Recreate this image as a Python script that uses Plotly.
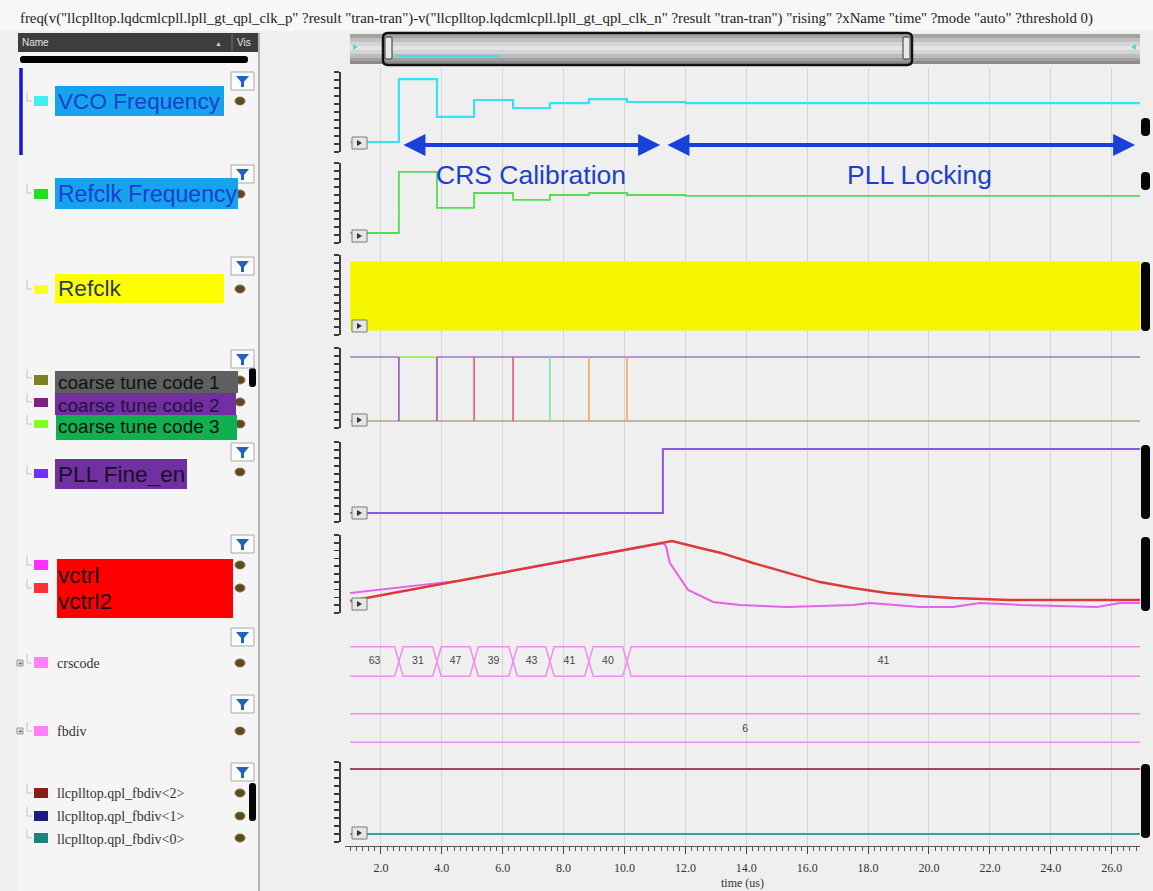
import plotly.graph_objects as go

W, H = 1153, 891
def X(px): return px / W
def Y(py): return 1 - py / H

# ---------------- data ----------------
t_start = 0.99
t_end = 26.93
tick_vals = [2, 4, 6, 8, 10, 12, 14, 16, 18, 20, 22, 24, 26]
crs_times = [2.59, 3.84, 5.06, 6.34, 7.55, 8.83, 10.08]
crs_codes = [63, 31, 47, 39, 43, 41, 40, 41]

vco_levels = [1.25, 9.12, 4.38, 6.50, 5.50, 6.12, 6.62, 6.25]
vco_settle_t = 12.0
vco_settled = 6.12

refclk_freq_levels = [1.25, 8.88, 4.38, 6.25, 5.38, 6.00, 6.25, 6.00]
refclk_freq_settle_t = 12.0
refclk_freq_settled = 5.88

refclk_high = 9.12
refclk_low = 0.62

ct_high = 8.88
ct_low = 0.88
ct3_window = [2.59, 3.84]
glitch_colors = ["#9a52b8", "#9a52b8", "#e8507c", "#e8507c", "#7ae8a2", "#f0a86a", "#f0a86a"]

fine_en_time = 11.26
fine_low = 1.12
fine_high = 9.12

vctrl2_t = [0.99, 11.26, 11.56, 12.48, 13.14, 14.22, 15.34, 16.42, 17.50, 18.62, 19.70, 20.79, 22.66, 26.93]
vctrl2_v = [0.154, 0.897, 0.923, 0.833, 0.773, 0.641, 0.513, 0.397, 0.321, 0.256, 0.218, 0.192, 0.167, 0.167]
vctrl_t = [0.99, 4.60, 11.26, 11.36, 11.49, 12.09, 12.91, 13.79, 15.34, 17.50, 18.06, 19.70, 20.79, 21.67, 22.99, 25.52, 26.27, 26.93]
vctrl_v = [0.256, 0.415, 0.893, 0.860, 0.641, 0.295, 0.141, 0.103, 0.077, 0.103, 0.128, 0.077, 0.077, 0.128, 0.103, 0.077, 0.128, 0.128]

fbdiv_value = 6
fbdiv_bits = [1, 1, 0]          # <2>, <1>, <0>
bit_high = 9.12
bit_low = 1.0

# ---------------- figure ----------------
fig = go.Figure()
SANS = "Liberation Sans, Arial, sans-serif"
SERIF = "Liberation Serif, Times New Roman, serif"

# invisible carrier trace for the full-height grid subplot
fig.add_trace(go.Scatter(x=[t_start], y=[0.5], mode="markers", marker=dict(opacity=0),
                         xaxis="x", yaxis="y", hoverinfo="skip", showlegend=False))

# VCO Frequency
fig.add_trace(go.Scatter(x=[t_start] + crs_times + [vco_settle_t, t_end],
                         y=vco_levels + [vco_settled, vco_settled],
                         mode="lines", line=dict(color="#34e2f2", width=2.2, shape="hv"),
                         xaxis="x", yaxis="y2", showlegend=False))
# Refclk Frequency
fig.add_trace(go.Scatter(x=[t_start] + crs_times + [refclk_freq_settle_t, t_end],
                         y=refclk_freq_levels + [refclk_freq_settled, refclk_freq_settled],
                         mode="lines", line=dict(color="#52de52", width=1.8, shape="hv"),
                         xaxis="x", yaxis="y3", showlegend=False))
# Refclk (dense clock -> envelope)
fig.add_trace(go.Scatter(x=[t_start, t_end], y=[refclk_low, refclk_low], mode="lines",
                         line=dict(color="#f4f400", width=1), xaxis="x", yaxis="y4", showlegend=False))
fig.add_trace(go.Scatter(x=[t_start, t_end], y=[refclk_high, refclk_high], mode="lines",
                         line=dict(color="#f4f400", width=1), fill="tonexty", fillcolor="#f6f600",
                         xaxis="x", yaxis="y4", showlegend=False))
# coarse tune codes
fig.add_trace(go.Scatter(x=[t_start, t_end], y=[ct_low, ct_low], mode="lines",
                         line=dict(color="#aaa872", width=1.6), xaxis="x", yaxis="y5", showlegend=False))
fig.add_trace(go.Scatter(x=[t_start, t_end], y=[ct_high, ct_high], mode="lines",
                         line=dict(color="#a474c8", width=1.6), xaxis="x", yaxis="y5", showlegend=False))
fig.add_trace(go.Scatter(x=ct3_window, y=[ct_high, ct_high], mode="lines",
                         line=dict(color="#b6f070", width=1.8), xaxis="x", yaxis="y5", showlegend=False))
for tt, cc in zip(crs_times, glitch_colors):
    fig.add_trace(go.Scatter(x=[tt, tt], y=[ct_low, ct_high], mode="lines",
                             line=dict(color=cc, width=1.6), xaxis="x", yaxis="y5", showlegend=False))
# PLL Fine_en
fig.add_trace(go.Scatter(x=[t_start, fine_en_time, t_end], y=[fine_low, fine_high, fine_high],
                         mode="lines", line=dict(color="#8c54ea", width=2, shape="hv"),
                         xaxis="x", yaxis="y6", showlegend=False))
# vctrl / vctrl2
fig.add_trace(go.Scatter(x=vctrl_t, y=vctrl_v, mode="lines", line=dict(color="#e262e8", width=2),
                         xaxis="x", yaxis="y7", showlegend=False))
fig.add_trace(go.Scatter(x=vctrl2_t, y=vctrl2_v, mode="lines", line=dict(color="#e03838", width=2.4),
                         xaxis="x", yaxis="y7", showlegend=False))

# crscode bus
d = 0.14
edges = [t_start] + crs_times + [t_end]
bx, by = [], []
for i in range(len(crs_codes)):
    s, e = edges[i], edges[i + 1]
    first, last = i == 0, i == len(crs_codes) - 1
    sl = s if first else s + d
    er = e if last else e - d
    for lvl in (1, 0):
        if not first:
            bx += [s]; by += [0.5]
        bx += [sl, er]; by += [lvl, lvl]
        if not last:
            bx += [e]; by += [0.5]
        bx += [None]; by += [None]
fig.add_trace(go.Scatter(x=bx, y=by, mode="lines", line=dict(color="#f08cf0", width=1.5),
                         xaxis="x", yaxis="y8", showlegend=False))
fig.add_trace(go.Scatter(x=[(edges[i] + edges[i + 1]) / 2 for i in range(len(crs_codes))],
                         y=[0.5] * len(crs_codes), mode="text",
                         text=[str(c) for c in crs_codes],
                         textfont=dict(family=SANS, size=10.5, color="#454545"),
                         xaxis="x", yaxis="y8", showlegend=False))
# fbdiv bus
fig.add_trace(go.Scatter(x=[t_start, t_end, None, t_start, t_end], y=[1, 1, None, 0, 0], mode="lines",
                         line=dict(color="#f08cf0", width=1.5), xaxis="x", yaxis="y9", showlegend=False))
fig.add_trace(go.Scatter(x=[(t_start + t_end) / 2], y=[0.45], mode="text", text=[str(fbdiv_value)],
                         textfont=dict(family=SANS, size=10.5, color="#454545"),
                         xaxis="x", yaxis="y9", showlegend=False))
# fbdiv bits
bit_colors = ["#b84444", "#22228a", "#3aa0a0"]
for b, c in zip([fbdiv_bits[1], fbdiv_bits[0], fbdiv_bits[2]], [bit_colors[1], bit_colors[0], bit_colors[2]]):
    lvl = bit_high if b else bit_low
    fig.add_trace(go.Scatter(x=[t_start, t_end], y=[lvl, lvl], mode="lines",
                             line=dict(color=c, width=1.8), xaxis="x", yaxis="y10", showlegend=False))

# ---------------- axes ----------------
layout_axes = {}
layout_axes["xaxis"] = dict(domain=[X(345), X(1140)], range=[0.82, 26.93], anchor="y",
                            showgrid=True, gridcolor="#d6d6d6", gridwidth=1, zeroline=False,
                            tickvals=tick_vals, tickformat=".1f", ticks="outside", ticklen=7,
                            tickcolor="#444", showline=True, linecolor="#555", linewidth=1,
                            minor=dict(dtick=0.2, tick0=0, ticks="outside", ticklen=4, tickcolor="#555", showgrid=False),
                            tickfont=dict(family=SERIF, size=12, color="#333"),
                            ticklabelstandoff=4,
                            title=dict(text="time (us)", font=dict(family=SERIF, size=12, color="#333"), standoff=4))
layout_axes["yaxis"] = dict(domain=[Y(846), Y(68)], range=[0, 1], visible=False, fixedrange=True)

panels = {
    "yaxis2": (72, 152, [0, 10], 1, True),
    "yaxis3": (163, 243, [0, 10], 1, True),
    "yaxis4": (255, 335, [0, 10], 1, True),
    "yaxis5": (348, 428, [0, 10], 1, True),
    "yaxis6": (442, 522, [0, 10], 1, True),
    "yaxis7": (535, 613, [0, 1], 0.1, True),
    "yaxis8": (641, 682, [-0.2, 1.2], 1, False),
    "yaxis9": (708, 748, [-0.2, 1.2], 1, False),
    "yaxis10": (762, 842, [0, 10], 1, True),
}
for name, (top, bot, rng, dt, vis) in panels.items():
    layout_axes[name] = dict(domain=[Y(bot), Y(top)], range=rng, anchor="free", position=X(340),
                             showgrid=False, zeroline=False, showticklabels=False,
                             showline=vis, linecolor="#3a3a3a", linewidth=2,
                             ticks="outside" if vis else "", ticklen=5, tickwidth=1.5,
                             tickcolor="#3a3a3a", dtick=dt, tick0=rng[0], visible=vis, fixedrange=True)

# ---------------- shapes ----------------
shapes = []
def rect(x0, y0, x1, y1, fill, line=None, lw=0, layer="above"):
    shapes.append(dict(type="rect", xref="paper", yref="paper", x0=X(x0), x1=X(x1), y0=Y(y1), y1=Y(y0),
                       fillcolor=fill, line=dict(color=line or fill, width=lw), layer=layer))
def pline(x0, y0, x1, y1, color, w=1, layer="above"):
    shapes.append(dict(type="line", xref="paper", yref="paper", x0=X(x0), x1=X(x1), y0=Y(y0), y1=Y(y1),
                       line=dict(color=color, width=w), layer=layer))
def path(pts, fill, line=None, lw=0):
    s = "M " + " L ".join(f"{X(a):.5f},{Y(b):.5f}" for a, b in pts) + " Z"
    shapes.append(dict(type="path", xref="paper", yref="paper", path=s, fillcolor=fill,
                       line=dict(color=line or fill, width=lw), layer="above"))
def rrect(x0, y0, x1, y1, r, fill, line=None, lw=0, layer="above"):
    def p(a, b): return f"{X(a):.5f},{Y(b):.5f}"
    s = (f"M {p(x0+r,y0)} L {p(x1-r,y0)} Q {p(x1,y0)} {p(x1,y0+r)} L {p(x1,y1-r)} Q {p(x1,y1)} {p(x1-r,y1)} "
         f"L {p(x0+r,y1)} Q {p(x0,y1)} {p(x0,y1-r)} L {p(x0,y0+r)} Q {p(x0,y0)} {p(x0+r,y0)} Z")
    shapes.append(dict(type="path", xref="paper", yref="paper", path=s, fillcolor=fill,
                       line=dict(color=line or fill, width=lw), layer=layer))
def circ(x0, y0, x1, y1, fill, line=None, lw=0):
    shapes.append(dict(type="circle", xref="paper", yref="paper", x0=X(x0), x1=X(x1), y0=Y(y1), y1=Y(y0),
                       fillcolor=fill, line=dict(color=line or fill, width=lw), layer="above"))

# title band
rect(0, 0, 1153, 31, "#f7f7f7", layer="below")
# left panel
rect(18, 52, 258, 891, "#f5f5f5", layer="below")
pline(259, 33, 259, 891, "#b4b4b4", 2, layer="below")
rect(18, 33, 258, 52, "#3d3d3d")
pline(232, 34, 232, 51, "#777777", 1)
rrect(20, 56, 248, 63, 3, "#000000")
pline(21, 68, 21, 155, "#1414d6", 3.5)

# top scrollbar (stepped gradient)
for (a, b, c) in [(34, 38, "#a4a4a4"), (38, 42, "#c0c0c0"), (42, 46, "#d6d6d6"), (46, 50, "#e4e4e4"),
                  (50, 54, "#d4d4d4"), (54, 58, "#bcbcbc"), (58, 61, "#a0a0a0"), (61, 64, "#8c8c8c")]:
    rect(350, a, 1140, b, c)
rrect(383, 33, 912, 65, 5, "rgba(0,0,0,0)", "#111111", 2.5)
rrect(385, 37, 392, 59, 1, "#e9e9e9", "#333333", 1)
rrect(903, 37, 910, 59, 1, "#e9e9e9", "#333333", 1)
pline(396, 56, 500, 56, "#46dcea", 2)
path([(353, 44), (358, 47), (353, 50)], "#46dcea")
path([(1136, 44), (1131, 47), (1136, 50)], "#46dcea")

# small "play" boxes
for bot in [150, 243, 333, 427, 520, 611, 840]:
    rect(352, bot - 13, 367, bot - 1, "#e6e6e6", "#7a7a7a", 1)
    path([(357, bot - 10), (362, bot - 7), (357, bot - 4)], "#333333")

# right black pills
for (a, b) in [(118, 136), (172, 190), (262, 331), (445, 519), (537, 611), (764, 838)]:
    rrect(1141, a, 1150, b, 4, "#050505")
# left list pills
for (a, b) in [(368, 387), (783, 821)]:
    rrect(249, a, 256, b, 3, "#050505")

# filter icons
for ty in [72, 165, 257, 350, 443, 535, 628, 695, 763]:
    rect(231, ty, 254, ty + 18, "#fbfbfb", "#a8a8a8", 1)
    path([(236, ty + 4), (249, ty + 4), (244, ty + 10), (244, ty + 15), (241, ty + 15), (241, ty + 10)], "#1f62c0")
# eyes
for ey in [101, 194, 289, 380, 402, 424, 472, 565, 588, 663, 731, 793, 816, 838]:
    circ(235, ey - 4, 245, ey + 4, "#5c4a20", "#8c7646", 1)
# tree connectors
for cy in [101, 193, 289, 378, 402, 424, 474, 565, 588, 663, 731, 793, 816, 838]:
    pline(27, cy - 9, 27, cy, "#c4c4c4", 1)
    pline(27, cy, 32, cy, "#c4c4c4", 1)
# expand boxes
for cy in [663, 731]:
    rect(17, cy - 3, 23, cy + 3, "#e0e0e0", "#9a9a9a", 1)

# label backgrounds
rect(55, 86, 224, 116, "#17a2ee")
rect(55, 178, 238, 209, "#17a2ee")
rect(55, 274, 224, 303, "#ffff00")
rect(55, 371, 238, 393, "#5f5f5f")
rect(55, 393, 236, 415, "#7030a0")
rect(56, 415, 237, 440, "#10b050")
rect(55, 459, 187, 489, "#7030a0")
rect(57, 559, 233, 618, "#ff0000")
# colour squares
for (a, b, c) in [(96, 106, "#40f0f0"), (189, 199, "#20e020"), (285, 294, "#ffff20"),
                  (375, 385, "#808020"), (398, 407, "#802080"), (420, 428, "#80ff20"),
                  (469, 478, "#7030ff"), (560, 570, "#ff30ff"), (583, 593, "#ff3030"),
                  (657, 668, "#ff80ff"), (726, 736, "#ff80ff"),
                  (788, 798, "#8b1c1c"), (811, 821, "#1c1c80"), (833, 843, "#208080")]:
    rect(34, a, 48, b, c)

# ---------------- annotations ----------------
ann = []
def txt(x, y, s, size, color, family=SANS, xanchor="left"):
    ann.append(dict(xref="paper", yref="paper", x=X(x), y=Y(y), text=s, showarrow=False,
                    xanchor=xanchor, yanchor="middle", font=dict(family=family, size=size, color=color)))

title = ('freq(v("llcplltop.lqdcmlcpll.lpll_gt_qpl_clk_p" ?result "tran-tran")-v("llcplltop.lqdcmlcpll.lpll_gt_qpl_clk_n" '
         '?result "tran-tran") "rising" ?xName "time" ?mode "auto" ?threshold 0)')
txt(18, 18, title, 14.8, "#222222", SERIF)
txt(20, 42, "Name", 10, "#e4e4e4")
txt(213, 43, "▲", 7, "#d0d0d0")
txt(235, 42, "Vis", 10, "#e4e4e4")

txt(56, 101, "VCO Frequency", 22.6, "#1c40cc")
txt(56, 194, "Refclk Frequency", 23, "#1c40cc")
txt(56, 289, "Refclk", 22.6, "#2b3d58")
txt(56, 383, "coarse tune code 1", 19, "#111111")
txt(56, 405, "coarse tune code 2", 19, "#2a0f40")
txt(56, 427, "coarse tune code 3", 19, "#111111")
txt(56, 474, "PLL Fine_en", 22.6, "#1a1024")
txt(56, 575, "vctrl", 22.6, "#111111")
txt(56, 601, "vctrl2", 22.6, "#111111")
txt(55, 663, "crscode", 14, "#333333", SERIF)
txt(55, 731, "fbdiv", 14, "#333333", SERIF)
txt(55, 793, "llcplltop.qpl_fbdiv&lt;2&gt;", 14, "#333333", SERIF)
txt(55, 816, "llcplltop.qpl_fbdiv&lt;1&gt;", 14, "#333333", SERIF)
txt(55, 839, "llcplltop.qpl_fbdiv&lt;0&gt;", 14, "#333333", SERIF)
for cy in [663, 731]:
    txt(20, cy, "+", 8, "#444444", xanchor="center")

# phase arrows
arrow_y = (152 - 145) / 8 * 1.0
for (a, b) in [(2.69, 11.17), (11.36, 26.77)]:
    ann.append(dict(xref="x", yref="y2", x=b, y=arrow_y, axref="x", ayref="y2", ax=a, ay=arrow_y,
                    text="", showarrow=True, arrowhead=2, arrowside="end+start", arrowsize=1.1,
                    arrowwidth=4, arrowcolor="#1a40dc", standoff=0, startstandoff=0))
ann.append(dict(xref="x", yref="y3", x=6.93, y=8.5, text="CRS Calibration", showarrow=False,
                font=dict(family=SANS, size=26.5, color="#1c40cc")))
ann.append(dict(xref="x", yref="y3", x=19.7, y=8.5, text="PLL Locking", showarrow=False,
                font=dict(family=SANS, size=26.5, color="#1c40cc")))

fig.update_layout(width=W, height=H, margin=dict(l=0, r=0, t=0, b=0),
                  paper_bgcolor="#efefef", plot_bgcolor="#efefef",
                  showlegend=False, shapes=shapes, annotations=ann, **layout_axes)

fig.write_html("out.html", config={"displayModeBar": False, "staticPlot": True},
               post_script="document.body.style.margin='0';document.body.style.overflow='hidden';")
